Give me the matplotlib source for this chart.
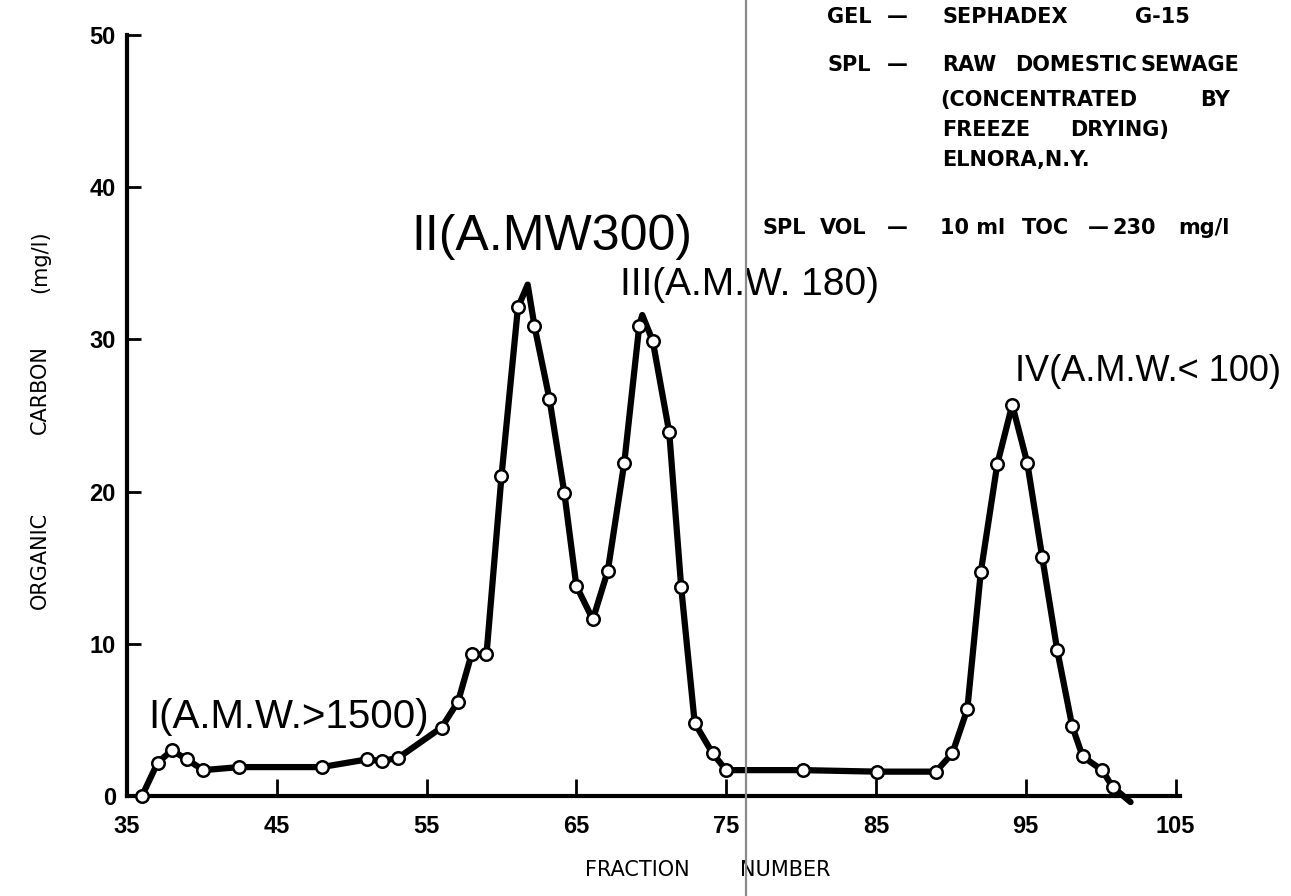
import matplotlib.pyplot as plt
from matplotlib.lines import Line2D

# fraction number / organic carbon (mg/l)
frac = [36.0, 37.05, 38.0, 39.0, 40.1, 42.5, 48.0, 51.0, 52.0, 53.1,
        56.0, 57.1, 58.0, 59.0, 60.0, 61.1, 62.2, 63.2, 64.2, 65.0,
        66.1, 67.1, 68.2, 69.2, 70.1, 71.2, 72.0, 72.9, 74.1, 75.0,
        80.1, 85.1, 89.0, 90.1, 91.1, 92.0, 93.1, 94.1, 95.1, 96.1,
        97.1, 98.1, 98.8, 100.1, 100.8]
carbon = [0.0, 2.2, 3.0, 2.4, 1.7, 1.9, 1.9, 2.4, 2.3, 2.5,
          4.5, 6.2, 9.3, 9.3, 21.0, 32.1, 30.9, 26.1, 19.9, 13.8,
          11.6, 14.8, 21.9, 30.9, 29.9, 23.9, 13.7, 4.8, 2.8, 1.7,
          1.7, 1.6, 1.6, 2.8, 5.7, 14.7, 21.8, 25.7, 21.9, 15.7,
          9.6, 4.6, 2.6, 1.7, 0.6]

# hand drawn curve: the points plus the two peak tips and the end
curve_x = frac[:16] + [61.75] + frac[16:24] + [69.4] + frac[24:] + [102.0]
curve_y = carbon[:16] + [33.6] + carbon[16:24] + [31.6] + carbon[24:] + [-0.4]

xticks = [35, 45, 55, 65, 75, 85, 95, 105]
yticks = [0, 10, 20, 30, 40, 50]

peaks = [(36.4, 5.2, 'I(A.M.W.>1500)', 29),
         (54.0, 36.7, 'II(A.MW300)', 36),
         (67.9, 33.6, 'III(A.M.W. 180)', 28),
         (94.3, 27.9, 'IV(A.M.W.< 100)', 26)]

W, H = 1291, 896
fig = plt.figure(figsize=(W / 100, H / 100), dpi=100)
ax = fig.add_axes([127 / W, (H - 796) / H, (1180 - 127) / W, (796 - 35) / H])

ax.plot(curve_x, curve_y, color='black', lw=4.5, solid_capstyle='round',
        solid_joinstyle='round', clip_on=False, zorder=2)
ax.plot(frac, carbon, 'o', ms=9, mfc='white', mec='black', mew=1.8,
        clip_on=False, zorder=3)

ax.set_xlim(35, 105.3)
ax.set_ylim(0, 50)
ax.set_xticks(xticks)
ax.set_yticks(yticks)
ax.set_xticklabels([str(t) for t in xticks], fontsize=17, fontweight='bold',
                   family='Liberation Sans')
ax.set_yticklabels([str(t) for t in yticks], fontsize=17, fontweight='bold',
                   family='Liberation Sans')
ax.tick_params(axis='x', direction='in', length=12, width=2, pad=14)
ax.tick_params(axis='y', direction='in', length=10, width=2, pad=8)
for s in ['top', 'right']:
    ax.spines[s].set_visible(False)
for s in ['left', 'bottom']:
    ax.spines[s].set_linewidth(3)

for x, y, t, fs in peaks:
    ax.text(x, y, t, fontsize=fs, family='Liberation Sans', ha='left',
            va='center', clip_on=False)

# notes, upper right
notes = [(827, 17, 'GEL'), (887, 17, '\u2014'), (942, 17, 'SEPHADEX'), (1135, 17, 'G-15'),
         (828, 65, 'SPL'), (887, 65, '\u2014'), (942, 65, 'RAW'), (1015, 65, 'DOMESTIC'),
         (1140, 65, 'SEWAGE'),
         (940, 100, '(CONCENTRATED'), (1200, 100, 'BY'),
         (942, 130, 'FREEZE'), (1070, 130, 'DRYING)'),
         (942, 160, 'ELNORA,N.Y.'),
         (763, 228, 'SPL'), (820, 228, 'VOL'), (887, 228, '\u2014'), (940, 228, '10 ml'),
         (1022, 228, 'TOC'), (1088, 228, '\u2014'), (1112, 228, '230'), (1178, 228, 'mg/l')]
for px, py, t in notes:
    fig.text(px / W, 1 - py / H, t, fontsize=15, fontweight='bold',
             family='DejaVu Sans', ha='left', va='center')

# axis titles, word by word as lettered on the sheet
for py, t in [(560, 'ORGANIC'), (390, 'CARBON'), (262, '(mg/l)')]:
    fig.text(40 / W, 1 - py / H, t, rotation=90, fontsize=15,
             family='DejaVu Sans', ha='center', va='center')
for px, t in [(585, 'FRACTION'), (740, 'NUMBER')]:
    fig.text(px / W, 1 - 870 / H, t, fontsize=15, family='DejaVu Sans',
             ha='left', va='center')

# fold line of the scanned page
fig.add_artist(Line2D([746 / W, 746 / W], [0, 1], transform=fig.transFigure,
                      color='#8a8a8a', lw=1.6, zorder=10))

fig.savefig('out.png', dpi=100, facecolor='white')
